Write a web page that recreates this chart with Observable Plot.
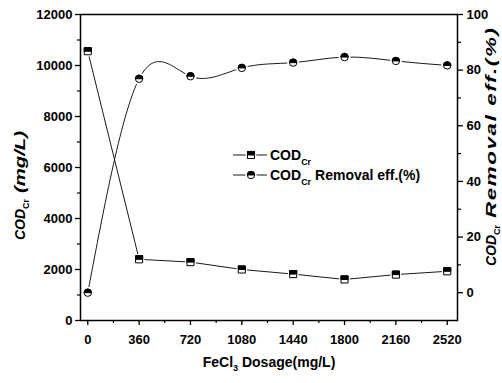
<!DOCTYPE html>
<html>
<head>
<meta charset="utf-8">
<script src="https://cdn.jsdelivr.net/npm/d3@7"></script>
<script src="https://cdn.jsdelivr.net/npm/@observablehq/plot@0.6"></script>
<style>
  html, body { margin: 0; padding: 0; background: #fff; }
  svg { display: block; }
</style>
</head>
<body>
<div id="chart"></div>
<script>
// ---- data ----
const dosage = [0, 360, 720, 1080, 1440, 1800, 2160, 2520];
const cod = [10560, 2400, 2290, 2000, 1820, 1610, 1800, 1930];
const removal = [0, 76.9, 77.8, 80.8, 82.7, 84.7, 83.3, 81.7];
const xTicks = [0, 360, 720, 1080, 1440, 1800, 2160, 2520];
const xMinor = [180, 540, 900, 1260, 1620, 1980, 2340];
const leftTicks = [0, 2000, 4000, 6000, 8000, 10000, 12000];
const leftMinor = [1000, 3000, 5000, 7000, 9000, 11000];
const rightTicks = [0, 20, 40, 60, 80, 100];
const rightMinor = [10, 30, 50, 70, 90];

// right axis (-10..100) mapped onto left scale (0..12000)
const R0 = -10, R1 = 100, L1 = 12000;
const toLeft = r => (r - R0) / (R1 - R0) * L1;
const fromLeft = v => v / L1 * (R1 - R0) + R0;

const codData = dosage.map((x, i) => ({x, y: cod[i]}));
const remData = dosage.map((x, i) => ({x, y: toLeft(removal[i])}));

const halfSquare = {draw(ctx, size) {
  const h = Math.sqrt(size) / 2;
  ctx.moveTo(-h, -h); ctx.lineTo(h, -h); ctx.lineTo(h, 0); ctx.lineTo(-h, 0); ctx.closePath();
}};
const halfCircle = {draw(ctx, size) {
  const r = Math.sqrt(size / Math.PI);
  ctx.moveTo(r, 0); ctx.arc(0, 0, r, 0, Math.PI, true); ctx.closePath();
}};

const font = "Liberation Sans, Arial, Helvetica, sans-serif";
const lineCol = "#1a1a1a";

const chart = Plot.plot({
  width: 502,
  height: 383,
  marginLeft: 80,
  marginRight: 45,
  marginTop: 14,
  marginBottom: 63,
  style: {fontFamily: font, background: "#fff", color: "#000"},
  x: {domain: [-51, 2592]},
  y: {domain: [0, 12000]},
  marks: [
    Plot.axisY(leftTicks, {anchor: "left", tickSize: 5, tickPadding: 3, fontSize: 13, fontWeight: "bold", label: null, tickFormat: d => String(d), strokeWidth: 1.3}),
    Plot.axisY(leftMinor, {anchor: "left", tickSize: 3, text: null, label: null, strokeWidth: 1.2}),
    Plot.axisY(rightTicks.map(toLeft), {anchor: "right", tickSize: 5, tickPadding: 4, fontSize: 13, fontWeight: "bold", label: null, tickFormat: d => String(Math.round(fromLeft(d))), strokeWidth: 1.3}),
    Plot.axisY(rightMinor.map(toLeft), {anchor: "right", tickSize: 3, text: null, label: null, strokeWidth: 1.2}),
    Plot.axisX(xTicks, {anchor: "bottom", tickSize: 5, tickPadding: 9, fontSize: 13, fontWeight: "bold", label: null, tickFormat: d => String(d), strokeWidth: 1.3}),
    Plot.axisX(xMinor, {anchor: "bottom", tickSize: 3, text: null, label: null, strokeWidth: 1.2}),
    Plot.frame({stroke: "#000", strokeWidth: 1.5}),
    Plot.line(codData, {x: "x", y: "y", stroke: lineCol, strokeWidth: 1}),
    Plot.line(remData, {x: "x", y: "y", stroke: lineCol, strokeWidth: 1, curve: "natural"}),
    // white halos to mimic gaps around markers
    Plot.dot(codData, {x: "x", y: "y", r: 6, fill: "#fff", stroke: "none", symbol: "square"}),
    Plot.dot(remData, {x: "x", y: "y", r: 6, fill: "#fff", stroke: "none"}),
    Plot.dot(codData, {x: "x", y: "y", r: 4, fill: "#fff", stroke: "#000", strokeWidth: 1, symbol: "square"}),
    Plot.dot(codData, {x: "x", y: "y", r: 4, fill: "#000", stroke: "#000", strokeWidth: 1, symbol: halfSquare}),
    Plot.dot(remData, {x: "x", y: "y", r: 3.7, fill: "#fff", stroke: "#000", strokeWidth: 1}),
    Plot.dot(remData, {x: "x", y: "y", r: 3.7, fill: "#000", stroke: "#000", strokeWidth: 1, symbol: halfCircle})
  ]
});

document.getElementById("chart").appendChild(chart);

// ---- axis titles and legend ----
const svg = d3.select(chart);
const g = svg.append("g").attr("font-family", font).attr("fill", "#000").attr("text-anchor", "start");

function subText(sel, parts) {
  parts.forEach(p => {
    const t = sel.append("tspan").text(p.t);
    if (p.sub) t.attr("font-size", p.subSize || 9).attr("font-style", "normal").attr("dy", p.dy || 4);
    else if (p.up) t.attr("dy", -(p.up));
  });
}
function titleText(transform) {
  return g.append("text").attr("transform", transform)
    .attr("text-anchor", "start").attr("font-size", 14).attr("font-weight", "bold").attr("font-style", "italic");
}

// left title
subText(titleText("translate(25,240) rotate(-90)"), [{t: "COD"}, {t: "Cr", sub: true, dy: 4}]);
titleText("translate(25,193) rotate(-90) scale(1.45,1)").text("(mg/L)");

// right title
subText(titleText("translate(496,266) rotate(-90)"), [{t: "COD"}, {t: "Cr", sub: true, dy: 4}]);
titleText("translate(496,218) rotate(-90) scale(1.6,1)").attr("letter-spacing", 1).text("Removal eff.(%)");

// bottom title
const bt = g.append("text")
  .attr("x", 269).attr("y", 367)
  .attr("text-anchor", "middle").attr("font-size", 14).attr("font-weight", "bold");
subText(bt, [{t: "FeCl"}, {t: "3", sub: true, dy: 4}, {t: " Dosage(mg/L)", up: 4}]);

// legend
const legendRows = [
  {y: 155, sym: halfSquare, base: d3.symbolSquare, r: 4, label: [{t: "COD"}, {t: "Cr", sub: true, dy: 5}]},
  {y: 175, sym: halfCircle, base: d3.symbolCircle, r: 3.7, label: [{t: "COD"}, {t: "Cr", sub: true, dy: 5}, {t: " Removal eff.(%)", up: 5}]}
];
legendRows.forEach(row => {
  g.append("line").attr("x1", 233).attr("x2", 267).attr("y1", row.y).attr("y2", row.y)
    .attr("stroke", lineCol).attr("stroke-width", 1);
  const size = row.r * row.r * Math.PI;
  g.append("path").attr("transform", `translate(251,${row.y})`)
    .attr("d", d3.symbol(row.base, (row.r + 2) ** 2 * Math.PI)()).attr("fill", "#fff");
  g.append("path").attr("transform", `translate(251,${row.y})`)
    .attr("d", d3.symbol(row.base, size)()).attr("fill", "#fff").attr("stroke", "#000");
  g.append("path").attr("transform", `translate(251,${row.y})`)
    .attr("d", d3.symbol(row.sym, size)()).attr("fill", "#000").attr("stroke", "#000");
  const t = g.append("text").attr("x", 270).attr("y", row.y + 5)
    .attr("text-anchor", "start").attr("font-size", 14).attr("font-weight", "bold");
  subText(t, row.label);
});
</script>
</body>
</html>
